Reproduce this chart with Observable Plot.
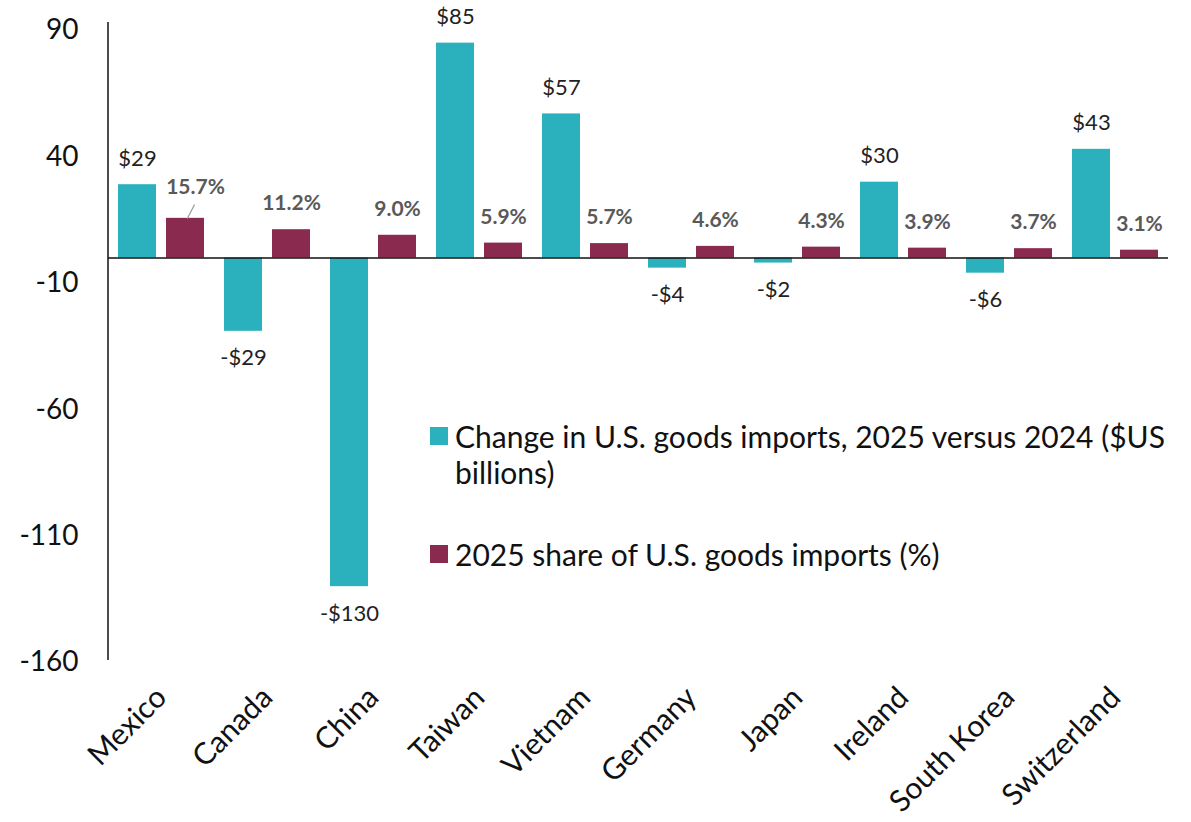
<!DOCTYPE html>
<html>
<head>
<meta charset="utf-8">
<script src="https://cdn.jsdelivr.net/npm/d3@7"></script>
<script src="https://cdn.jsdelivr.net/npm/@observablehq/plot@0.6"></script>
<style>
  html, body { margin: 0; padding: 0; background: #fff; }
  #wrap { position: relative; width: 1191px; height: 822px; font-family: Lato, "Open Sans", sans-serif; }
  .legend { position: absolute; left: 430px; top: 418px; width: 735px; font-size: 30px; color: #111; line-height: 36px; }
  .legend .item { position: relative; padding-left: 25px; margin-bottom: 46px; }
  .legend .sw { position: absolute; left: 0; top: 9px; width: 18px; height: 18px; }
</style>
</head>
<body>
<div id="wrap"></div>
<script>
const countries = ["Mexico", "Canada", "China", "Taiwan", "Vietnam", "Germany", "Japan", "Ireland", "South Korea", "Switzerland"];
const changeBn = [29, -29, -130, 85, 57, -4, -2, 30, -6, 43];
const sharePct = [15.7, 11.2, 9.0, 5.9, 5.7, 4.6, 4.3, 3.9, 3.7, 3.1];
const yTicks = [90, 40, -10, -60, -110, -160];
const seriesNames = ["Change in U.S. goods imports, 2025 versus 2024 ($US billions)", "2025 share of U.S. goods imports (%)"];

const TEAL = "#2BB0BD";
const MAROON = "#8B2A4F";

const rows = countries.map((c, i) => ({country: c, change: changeBn[i], share: sharePct[i]}));
const fmtChange = v => (v < 0 ? "-$" : "$") + Math.abs(v);
const fmtShare = v => v.toFixed(1) + "%";

const leader = {draw(context, l) { context.moveTo(0, 0); context.lineTo(0, -l); }};

const chart = Plot.plot({
  width: 1191,
  height: 822,
  marginLeft: 108,
  marginRight: 23,
  marginTop: 30,
  marginBottom: 160,
  style: {fontFamily: "Lato, 'Open Sans', sans-serif", background: "#fff", color: "#111"},
  x: {domain: countries, padding: 0, label: null},
  y: {domain: [-160, 90], label: null},
  marks: [
    Plot.barY(rows, {x: "country", y: "change", fill: TEAL, insetLeft: 10, insetRight: 58}),
    Plot.barY(rows, {x: "country", y: "share", fill: MAROON, insetLeft: 58, insetRight: 10}),
    Plot.ruleY([0], {stroke: "#111", strokeWidth: 1.5}),
    Plot.text(rows.filter(d => d.change >= 0), {x: "country", y: "change", text: d => fmtChange(d.change), dx: -24, dy: -26, fontSize: 22, fill: "#222"}),
    Plot.text(rows.filter(d => d.change < 0), {x: "country", y: "change", text: d => fmtChange(d.change), dx: -24, dy: 27, fontSize: 22, fill: "#222"}),
    Plot.text(rows.slice(1), {x: "country", y: "share", text: d => fmtShare(d.share), dx: 24, dy: -26, fontSize: 21, fontWeight: "bold", fill: "#595959"}),
    Plot.text(rows.slice(0, 1), {x: "country", y: "share", text: d => fmtShare(d.share), dx: 34, dy: -31, fontSize: 21, fontWeight: "bold", fill: "#595959"}),
    Plot.vector(rows.slice(0, 1), {x: "country", y: "share", dx: 26, length: 15, rotate: 27, anchor: "start", shape: leader, stroke: "#999", strokeWidth: 1.2}),
    Plot.axisY({ticks: yTicks, tickSize: 0, tickPadding: 30, fontSize: 28, tickFormat: d => String(d)}),
    Plot.axisX({tickSize: 0, tickRotate: -45, tickPadding: 30, fontSize: 30, label: null})
  ]
});

const y = chart.scale("y");
d3.select(chart).append("line")
  .attr("x1", 108).attr("x2", 108)
  .attr("y1", y.apply(90) - 8).attr("y2", y.apply(-160) - 2)
  .attr("stroke", "#111").attr("stroke-width", 1.5);

const wrap = document.getElementById("wrap");
wrap.appendChild(chart);

const legend = document.createElement("div");
legend.className = "legend";
[TEAL, MAROON].forEach((col, i) => {
  const item = document.createElement("div");
  item.className = "item";
  const sw = document.createElement("span");
  sw.className = "sw";
  sw.style.background = col;
  item.appendChild(sw);
  item.appendChild(document.createTextNode(seriesNames[i]));
  legend.appendChild(item);
});
wrap.appendChild(legend);
</script>
</body>
</html>
